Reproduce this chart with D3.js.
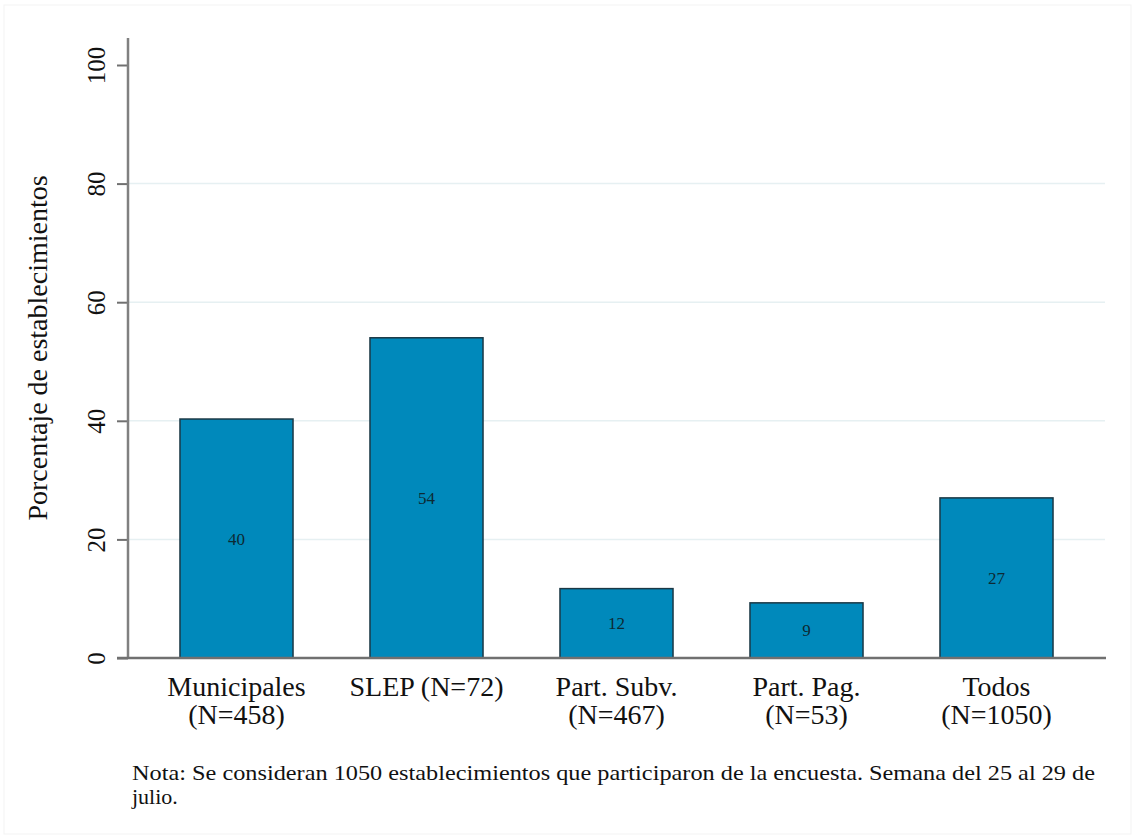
<!DOCTYPE html>
<html>
<head>
<meta charset="utf-8">
<script src="https://cdn.jsdelivr.net/npm/d3@7"></script>
<style>
  body { margin: 0; background: #fff; }
  svg text { font-family: "Liberation Serif", "DejaVu Serif", serif; fill: #111; }
</style>
</head>
<body>
<div id="chart"></div>
<script>
const categories = ["Municipales", "SLEP (N=72)", "Part. Subv.", "Part. Pag.", "Todos"];
const subLabels = ["(N=458)", "", "(N=467)", "(N=53)", "(N=1050)"];
const values = [40.3, 54.0, 11.7, 9.3, 27.0];
const valueLabels = ["40", "54", "12", "9", "27"];
const yTicks = [0, 20, 40, 60, 80, 100];
const note = ["Nota: Se consideran 1050 establecimientos que participaron de la encuesta. Semana del 25 al 29 de", "julio."];

const W = 1135, H = 839;
const svg = d3.select("#chart").append("svg")
    .attr("width", W)
    .attr("height", H);

// faint outer frame
svg.append("rect")
    .attr("x", 4).attr("y", 5)
    .attr("width", W - 8).attr("height", H - 10)
    .attr("fill", "none")
    .attr("stroke", "#f3f3f3");

const yScale = d3.scaleLinear().domain([0, 100]).range([658, 65]);
const xScale = d3.scaleBand()
    .domain(categories)
    .range([141.5, 1091.5])
    .paddingInner(0.405)
    .paddingOuter(0.2025);

// grid lines
svg.selectAll(".grid")
    .data(yTicks.filter(d => d > 0 && d < 100))
    .enter().append("line")
    .attr("x1", 128).attr("x2", 1105)
    .attr("y1", d => yScale(d)).attr("y2", d => yScale(d))
    .attr("stroke", "#e6f0f2")
    .attr("stroke-width", 1.5);

// bars
svg.selectAll(".bar")
    .data(values)
    .enter().append("rect")
    .attr("x", (d, i) => xScale(categories[i]))
    .attr("y", d => yScale(d))
    .attr("width", xScale.bandwidth())
    .attr("height", d => yScale(0) - yScale(d))
    .attr("fill", "#0089bb")
    .attr("stroke", "#1b3845")
    .attr("stroke-width", 1.5);

// value labels
svg.selectAll(".vlab")
    .data(values)
    .enter().append("text")
    .attr("x", (d, i) => xScale(categories[i]) + xScale.bandwidth() / 2)
    .attr("y", d => (yScale(d) + yScale(0)) / 2 + 6)
    .attr("text-anchor", "middle")
    .style("font-size", "17px")
    .style("fill", "#0d2a33")
    .text((d, i) => valueLabels[i]);

// y axis
const yAxis = svg.append("g")
    .attr("transform", "translate(128,0)")
    .call(d3.axisLeft(yScale).tickValues(yTicks).tickSize(11).tickFormat(d3.format("d")));
yAxis.attr("font-family", null);
yAxis.select(".domain").remove();
yAxis.selectAll("line").attr("stroke", "#707070").attr("stroke-width", 2);
yAxis.selectAll("text")
    .attr("transform", "rotate(-90)")
    .attr("x", 0)
    .attr("dy", 0)
    .attr("y", -23)
    .attr("text-anchor", "middle")
    .style("font-size", "25px");

svg.append("line")
    .attr("x1", 128).attr("x2", 128)
    .attr("y1", 38).attr("y2", 659)
    .attr("stroke", "#808080").attr("stroke-width", 2.5);
svg.append("line")
    .attr("x1", 117).attr("x2", 1106)
    .attr("y1", 658).attr("y2", 658)
    .attr("stroke", "#707070").attr("stroke-width", 2.5);

svg.append("text")
    .attr("transform", "translate(47,348) rotate(-90)")
    .attr("text-anchor", "middle")
    .style("font-size", "28px")
    .text("Porcentaje de establecimientos");

// category labels
const xlab = svg.selectAll(".xlab")
    .data(categories)
    .enter().append("text")
    .attr("text-anchor", "middle")
    .style("font-size", "28px");
xlab.append("tspan")
    .attr("x", d => xScale(d) + xScale.bandwidth() / 2)
    .attr("y", 696)
    .text(d => d);
xlab.append("tspan")
    .attr("x", d => xScale(d) + xScale.bandwidth() / 2)
    .attr("y", 724)
    .text((d, i) => subLabels[i]);

// note
svg.selectAll(".note")
    .data(note)
    .enter().append("text")
    .attr("x", 132)
    .attr("y", (d, i) => 780 + i * 24)
    .attr("textLength", (d, i) => i === 0 ? 963 : null)
    .attr("lengthAdjust", "spacingAndGlyphs")
    .style("font-size", "22px")
    .text(d => d);
</script>
</body>
</html>
